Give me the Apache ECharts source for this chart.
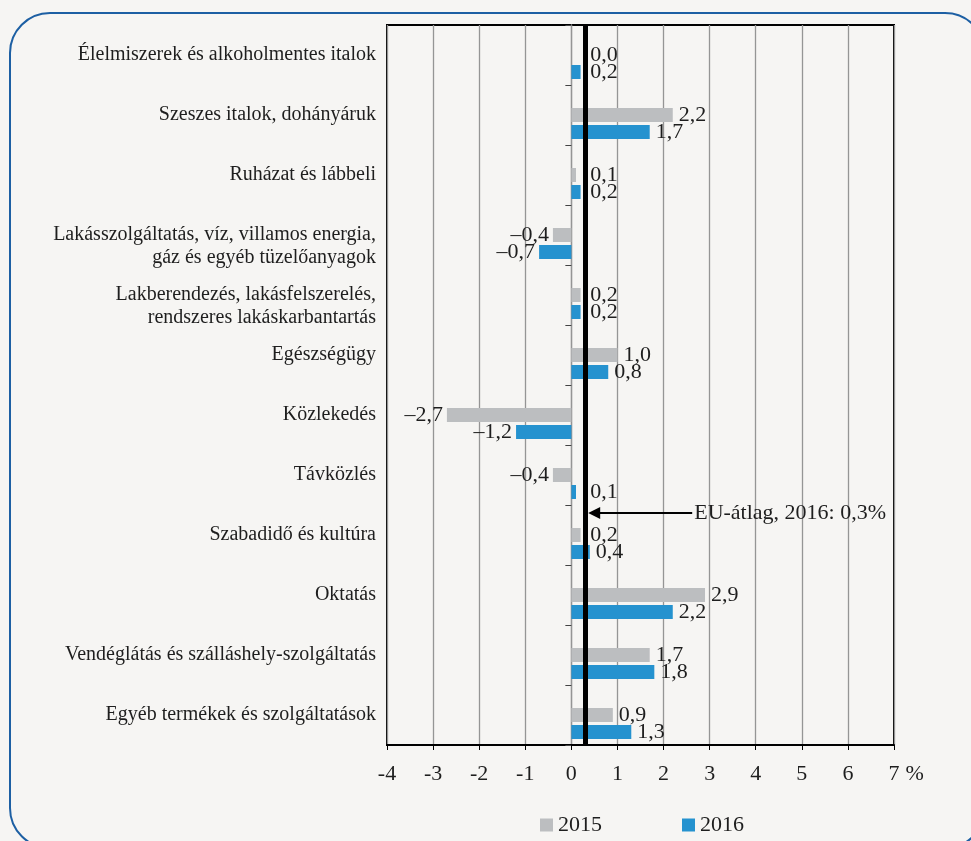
<!DOCTYPE html>
<html><head><meta charset="utf-8">
<script src="https://cdn.jsdelivr.net/npm/echarts@6/dist/echarts.min.js"></script>
<style>html,body{margin:0;padding:0;background:#f6f5f3;}#c{width:971px;height:841px;}</style>
</head><body><div id="c"></div>
<script>
const categories = [
  'Élelmiszerek és alkoholmentes italok',
  'Szeszes italok, dohányáruk',
  'Ruházat és lábbeli',
  'Lakásszolgáltatás, víz, villamos energia,\ngáz és egyéb tüzelőanyagok',
  'Lakberendezés, lakásfelszerelés,\nrendszeres lakáskarbantartás',
  'Egészségügy',
  'Közlekedés',
  'Távközlés',
  'Szabadidő és kultúra',
  'Oktatás',
  'Vendéglátás és szálláshely-szolgáltatás',
  'Egyéb termékek és szolgáltatások'
];
const values2015 = [0.0, 2.2, 0.1, -0.4, 0.2, 1.0, -2.7, -0.4, 0.2, 2.9, 1.7, 0.9];
const values2016 = [0.2, 1.7, 0.2, -0.7, 0.2, 0.8, -1.2, 0.1, 0.4, 2.2, 1.8, 1.3];
const seriesNames = ['2015', '2016'];
const xMin = -4, xMax = 7, xInterval = 1;
const xUnit = '%';
const euAverage2016 = 0.3;
const euLabel = 'EU-átlag, 2016: 0,3%';

const FONT = 'Liberation Serif';
const TXT = '#1e1e1e';
const GRAY = '#bcbec0';
const BLUE = '#2592cf';
const NUM_SIZE = 22;

const fmt = v => v.toFixed(1).replace('.', ',').replace('-', '–');

const chart = echarts.init(document.getElementById('c'), null, { renderer: 'canvas' });

function build(unitPx) {
  const mkData = (arr) => arr.map(v => {
    let dist = v < 0 ? 4 : 6;
    if (v >= 0 && unitPx) {
      // keep labels clear of the EU-average line
      dist = Math.max(6, (euAverage2016 - v) * unitPx + 5);
    }
    return { value: v, label: { position: v < 0 ? 'left' : 'right', distance: dist } };
  });
  const barLabel = {
    show: true, fontFamily: FONT, fontSize: NUM_SIZE, color: TXT,
    formatter: p => fmt(p.value)
  };
  return {
    backgroundColor: '#f6f5f3',
    animation: false,
    textStyle: { fontFamily: FONT },
    grid: { left: 387, right: 77, top: 25, bottom: 96, show: true, borderColor: '#000', borderWidth: 2, backgroundColor: 'transparent' },
    legend: {
      data: seriesNames, left: 535, top: 809, itemWidth: 13, itemHeight: 13, itemGap: 80, icon: 'rect',
      textStyle: { fontFamily: FONT, fontSize: NUM_SIZE, color: TXT }
    },
    xAxis: {
      type: 'value', min: xMin, max: xMax, interval: xInterval,
      name: xUnit, nameLocation: 'end', nameGap: 9,
      nameTextStyle: { fontFamily: FONT, fontSize: NUM_SIZE, color: TXT, verticalAlign: 'top', padding: [18, 0, 0, 0] },
      axisLine: { show: true, onZero: false, lineStyle: { color: '#000', width: 2 } },
      axisTick: { show: true, length: 5, lineStyle: { color: '#000', width: 1 } },
      axisLabel: { fontFamily: FONT, fontSize: NUM_SIZE, color: TXT, margin: 18 },
      splitLine: { show: true, lineStyle: { color: '#959595', width: 1.3 } }
    },
    yAxis: [
      {
        type: 'category', data: categories, inverse: true,
        axisLine: { show: false, onZero: false },
        axisTick: { show: false },
        axisLabel: {
          fontFamily: FONT, fontSize: 20, color: TXT, margin: 11, lineHeight: 23,
          formatter: s => s.indexOf('\n') >= 0 ? ' \n' + s : s
        }
      },
      {
        type: 'category', data: categories, inverse: true, position: 'left',
        axisLine: { show: true, onZero: true, lineStyle: { color: '#959595', width: 1.3 } },
        axisTick: { show: true, length: 6, lineStyle: { color: '#444', width: 1 } },
        axisLabel: { show: false }
      }
    ],
    series: [
      {
        name: 'spacer', type: 'bar', yAxisIndex: 0, barWidth: 14, barGap: '21.4%', silent: true,
        data: categories.map(() => null)
      },
      {
        name: seriesNames[0], type: 'bar', yAxisIndex: 0, barWidth: 14, barGap: '21.4%',
        itemStyle: { color: GRAY }, label: barLabel, data: mkData(values2015)
      },
      {
        name: seriesNames[1], type: 'bar', yAxisIndex: 0, barWidth: 14, barGap: '21.4%',
        itemStyle: { color: BLUE }, label: barLabel, data: mkData(values2016),
        markLine: {
          silent: true, symbol: ['none', 'none'], label: { show: false }, z: 10,
          lineStyle: { color: '#000', width: 5, type: 'solid' },
          data: [{ xAxis: euAverage2016 }]
        }
      }
    ]
  };
}

chart.setOption(build(0));
const unitPx = chart.convertToPixel({ xAxisIndex: 0 }, 1) - chart.convertToPixel({ xAxisIndex: 0 }, 0);
chart.setOption(build(unitPx));

const x0 = chart.convertToPixel({ xAxisIndex: 0 }, euAverage2016);
const yA = chart.convertToPixel({ yAxisIndex: 0 }, 7);
const yB = chart.convertToPixel({ yAxisIndex: 0 }, 8);
const ya = Math.round(yA + (yB - yA) * 0.63);
const tip = x0 + 3;
chart.setOption({
  graphic: [
    { type: 'rect', z: -1, silent: true, shape: { x: 10, y: 13, width: 975, height: 835, r: 40 },
      style: { fill: 'none', stroke: '#1d5fa3', lineWidth: 2 } },
    { type: 'line', z: 100, shape: { x1: tip + 10, y1: ya, x2: tip + 104, y2: ya }, style: { stroke: '#000', lineWidth: 2 } },
    { type: 'polygon', z: 100, shape: { points: [[tip, ya], [tip + 12, ya - 6], [tip + 12, ya + 6]] }, style: { fill: '#000' } },
    { type: 'text', z: 100, x: tip + 106, y: ya, style: { text: euLabel, font: NUM_SIZE + 'px "Liberation Serif"', fill: TXT, verticalAlign: 'middle' } }
  ]
});
</script>
</body></html>
